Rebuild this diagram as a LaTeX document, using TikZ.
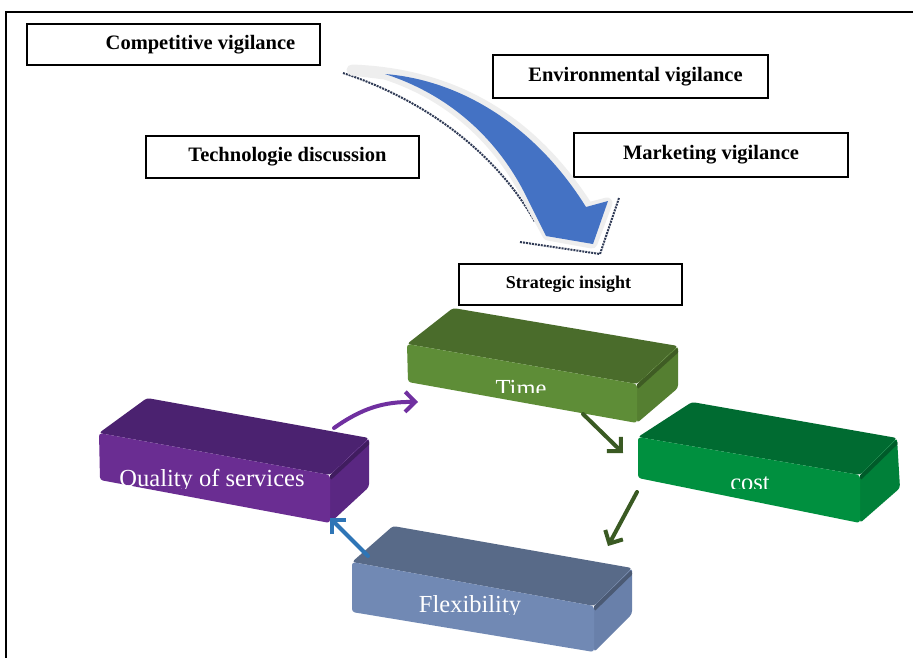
\documentclass[tikz,border=0pt]{standalone}
\usepackage{fontspec}
\setmainfont{Liberation Serif}
\usetikzlibrary{arrows.meta,calc}

\definecolor{purTop}{HTML}{4B2270}
\definecolor{purFront}{HTML}{6A2D92}
\definecolor{purSide}{HTML}{5A2782}
\definecolor{timTop}{HTML}{4A6C2B}
\definecolor{timFront}{HTML}{5E8D37}
\definecolor{timSide}{HTML}{557F31}
\definecolor{cosTop}{HTML}{006B31}
\definecolor{cosFront}{HTML}{00903F}
\definecolor{cosSide}{HTML}{008039}
\definecolor{flxTop}{HTML}{586A88}
\definecolor{flxFront}{HTML}{7189B4}
\definecolor{flxSide}{HTML}{6980AA}
\definecolor{bigBlue}{HTML}{4472C4}
\definecolor{haloGray}{HTML}{EEEEEE}
\definecolor{shadeDots}{HTML}{2F3A55}
\definecolor{arrPurple}{HTML}{7030A0}
\definecolor{arrGreen}{HTML}{3A5A23}
\definecolor{arrBlue}{HTML}{2E75B6}

\tikzset{
  tbox/.style={draw=black, line width=1.6pt, fill=white, inner sep=0pt,
    font=\fontsize{20.5}{20.5}\selectfont\bfseries},
  boxlabel/.style={text=white, inner sep=0pt, anchor=base,
    font=\fontsize{24.5}{24.5}\selectfont},
  link/.style={line width=4pt, line cap=round,
    -{Straight Barb[length=10pt,width=20pt,line width=4pt]}},
}

% A tilted slab: front face a-b-c-d, back top edge e-f, back bottom corner g.
% #1 prefix of the coordinates, #2 colour prefix, #3 label, #4 lowest visible y of the label
\newcommand\slab[4]{%
  \fill[#2Top, rounded corners=3pt] (#1a) -- (#1e) -- (#1f) -- (#1b) -- cycle;
  \fill[#2Side, rounded corners=3pt] (#1b) -- (#1f) -- (#1g) -- (#1c) -- cycle;
  \begin{scope}
    \clip (#1b) -- (#1f) -- (#1g) -- (#1c) -- cycle;
    \draw[#2Top!85!black, line width=4pt] ($(#1b)+(0,3)$) -- ($(#1f)+(0,4)$);
  \end{scope}
  \fill[#2Front, rounded corners=3pt] (#1a) -- (#1b) -- (#1c) -- (#1d) -- cycle;
  \begin{scope}
    \clip (#1a) -- (#1b) -- (#1c) -- (#1d) -- cycle;
    \clip (0,0) rectangle (913,#4);
    \node[boxlabel] (#1label) at (#1t) {#3};
  \end{scope}%
}

\begin{document}
\begin{tikzpicture}[x=1pt, y=-1pt]
\useasboundingbox (0,0) rectangle (913,657);
\fill[white] (0,0) rectangle (913,657);

% outer frame
\draw[line width=1.8pt] (6,660) -- (6,12) -- (916,12);

% text boxes
\node[tbox, minimum width=293, minimum height=41] (cv) at (173.5,44.5)
  {\hspace*{54pt}Competitive vigilance};
\node[tbox, minimum width=275, minimum height=43] (ev) at (630.5,76.5)
  {\hspace*{10pt}Environmental vigilance};
\node[tbox, minimum width=273, minimum height=42] (td) at (282.5,157)
  {\hspace*{10pt}Technologie discussion};
\node[tbox, minimum width=274, minimum height=44] (mv) at (711,155)
  {Marketing vigilance};
\node[tbox, minimum width=223, minimum height=41,
      font=\fontsize{18}{18}\selectfont\bfseries] (si) at (570.5,284.5)
  {\hspace*{-4pt}Strategic insight};

% curved block arrow: dotted shadow, light halo, blue body
\draw[shadeDots, densely dotted, line width=2pt]
  (343,73) .. controls (420,98) and (495,150) .. (535,222);
\draw[shadeDots, densely dotted, line width=2pt]
  (520,242) -- (600,254) -- (619,198);
\path[fill=haloGray, draw=haloGray, line width=11pt, line join=round]
  (352,70) .. controls (460,74) and (535,125) .. (588,208)
  -- (607,203) -- (592,243) -- (548,235)
  -- (530,202) .. controls (500,140) and (450,95) .. (385,74) -- cycle;
\path[fill=bigBlue]
  (385,74) .. controls (460,80) and (535,125) .. (586,207)
  -- (608,201) -- (593,244) -- (546,236)
  -- (529,202) .. controls (500,140) and (450,95) .. (385,74) -- cycle;

% Quality of services
\coordinate (qa) at (99,433);  \coordinate (qb) at (330,475);
\coordinate (qc) at (330,523); \coordinate (qd) at (100,480);
\coordinate (qe) at (147,398); \coordinate (qf) at (369,438);
\coordinate (qg) at (369,487); \coordinate (qt) at (212,486);
\slab{q}{pur}{Quality of services}{488}

% Time
\coordinate (ta) at (407,344); \coordinate (tb) at (637,384);
\coordinate (tc) at (637,423); \coordinate (td) at (408,382);
\coordinate (te) at (453,308); \coordinate (tf) at (678,346);
\coordinate (tg) at (678,388); \coordinate (tt) at (521,396);
\slab{t}{tim}{Time}{392}

% cost
\coordinate (ca) at (638,437); \coordinate (cb) at (860,475);
\coordinate (cc) at (860,523); \coordinate (cd) at (638,478);
\coordinate (ce) at (692,402); \coordinate (cf) at (897,438);
\coordinate (cg) at (900,488); \coordinate (ct) at (750,490);
\slab{c}{cos}{cost}{488}

% Flexibility
\coordinate (fa) at (352,562); \coordinate (fb) at (594,606);
\coordinate (fc) at (594,652); \coordinate (fd) at (352,612);
\coordinate (fe) at (393,526); \coordinate (ff) at (632,568);
\coordinate (fg) at (632,614); \coordinate (ft) at (470,612);
\slab{f}{flx}{Flexibility}{614}

% connectors of the cycle
\coordinate (q2t) at (334,428); \coordinate (t2q) at (418,402);
\coordinate (t2c) at (583,414); \coordinate (c2t) at (623,453);
\coordinate (c2f) at (637,492); \coordinate (f2c) at (608,546);
\coordinate (f2q) at (368,556); \coordinate (q2f) at (330,518);
\draw[link, arrPurple] (q2t) to[bend left=18] (t2q);
\draw[link, arrGreen] (t2c) -- (c2t);
\draw[link, arrGreen] (c2f) -- (f2c);
\draw[link, arrBlue] (f2q) -- (q2f);
\end{tikzpicture}
\end{document}
